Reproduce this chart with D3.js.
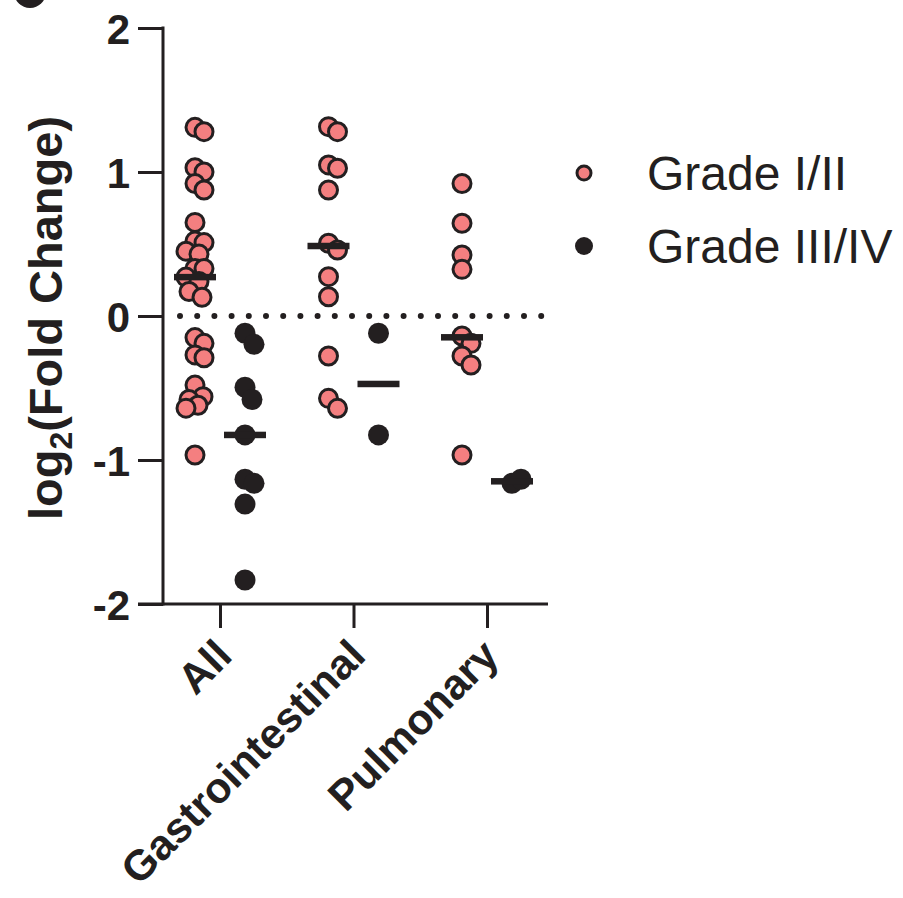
<!DOCTYPE html>
<html>
<head>
<meta charset="utf-8">
<script src="https://cdn.jsdelivr.net/npm/d3@7"></script>
<style>
  html, body { margin: 0; padding: 0; background: #fff; }
  svg { display: block; }
</style>
</head>
<body>
<svg id="chart" width="903" height="898"></svg>
<script>
// ---------------- data ----------------
const categories = ["All", "Gastrointestinal", "Pulmonary"];
const seriesNames = ["Grade I/II", "Grade III/IV"];

const gradeLowAll  = [1.31, 1.28, 1.03, 1.00, 0.92, 0.875, 0.65, 0.52, 0.51, 0.45, 0.43, 0.33, 0.33, 0.27, 0.24, 0.17, 0.13,
                      -0.15, -0.19, -0.27, -0.29, -0.48, -0.56, -0.58, -0.62, -0.64, -0.965];
const gradeLowGI   = [1.315, 1.28, 1.049, 1.026, 0.875, 0.505, 0.458, 0.273, 0.134, -0.278, -0.572, -0.641];
const gradeLowPulm = [0.92, 0.644, 0.424, 0.324, -0.139, -0.19, -0.278, -0.34, -0.965];

const gradeHighAll  = [-0.12, -0.197, -0.495, -0.58, -0.826, -1.134, -1.162, -1.306, -1.833];
const gradeHighGI   = [-0.12, -0.826];
const gradeHighPulm = [-1.162, -1.134];

const medianLow  = [0.27, 0.486, -0.148];
const medianHigh = [-0.826, -0.472, -1.148];

const yTicks = [-2, -1, 0, 1, 2];

// ---------------- drawing ----------------
const svg = d3.select("#chart");
const INK = "#231f20";
const PINK = "#f47f80";
const FONT = "'Liberation Sans', Arial, Helvetica, sans-serif";

const y = d3.scaleLinear().domain([-2, 2]).range([604, 28]);
const x = d3.scalePoint().domain(categories).range([220, 487]);
const seriesOffset = d3.scalePoint().domain(seriesNames).range([-25, 25]);

const axisLeftX = 163;
const axisRight = 548;

// top-left partial panel mark
svg.append("circle").attr("cx", 30).attr("cy", -8).attr("r", 16).attr("fill", INK);

// dotted zero line
svg.append("line")
  .attr("x1", 180).attr("x2", 546)
  .attr("y1", y(0)).attr("y2", y(0))
  .attr("stroke", INK).attr("stroke-width", 6)
  .attr("stroke-linecap", "round")
  .attr("stroke-dasharray", "0 17.2");

// Y axis
const yAxis = d3.axisLeft(y).tickValues(yTicks).tickSize(25).tickPadding(8)
  .tickFormat(d => String(d));
const gy = svg.append("g").attr("transform", `translate(${axisLeftX},0)`).call(yAxis);
gy.select(".domain").remove();
gy.selectAll(".tick line").attr("stroke", INK).attr("stroke-width", 3);
gy.selectAll(".tick text")
  .attr("font-family", FONT).attr("font-weight", "bold").attr("font-size", 42)
  .attr("fill", INK).attr("dy", "0.36em");
gy.append("line").attr("x1", 0).attr("x2", 0)
  .attr("y1", y(2) - 1.5).attr("y2", y(-2) + 1.5)
  .attr("stroke", INK).attr("stroke-width", 3);

// X axis
const xAxis = d3.axisBottom(x).tickSize(24).tickFormat("");
const gx = svg.append("g").attr("transform", `translate(0,${y(-2)})`).call(xAxis);
gx.select(".domain").remove();
gx.selectAll(".tick line").attr("stroke", INK).attr("stroke-width", 3);
gx.append("line").attr("x1", axisLeftX - 25).attr("x2", axisRight)
  .attr("y1", 0).attr("y2", 0).attr("stroke", INK).attr("stroke-width", 3);

svg.append("g").selectAll("text").data(categories).join("text")
  .attr("transform", d => `translate(${x(d) + 14},${y(-2) + 54}) rotate(-45)`)
  .attr("text-anchor", "end")
  .attr("font-family", FONT).attr("font-weight", "bold").attr("font-size", 42.5)
  .attr("fill", INK)
  .text(d => d);

// Y title
const title = svg.append("text")
  .attr("transform", `translate(62,318) rotate(-90)`)
  .attr("text-anchor", "middle")
  .attr("font-family", FONT).attr("font-weight", "bold").attr("font-size", 47)
  .attr("fill", INK);
title.append("tspan").text("log");
title.append("tspan").attr("font-size", 32).attr("dy", 10).text("2");
title.append("tspan").attr("dy", -10).text("(Fold Change)");

// beeswarm placement (deterministic, like Prism's scatter dot plot)
function swarm(values, cx) {
  const placed = [];
  const D = 14, maxOff = 9;
  const cands = [];
  for (let k = 0; k <= maxOff; k++) { cands.push(k); if (k) cands.push(-k); }
  values.forEach(v => {
    const py = y(v);
    let best = null, bestMin = -1;
    for (const dx of cands) {
      let m = Infinity;
      for (const p of placed) m = Math.min(m, Math.hypot(cx + dx - p.x, py - p.y));
      if (m >= D) { best = dx; bestMin = m; break; }
      if (m > bestMin) { bestMin = m; best = dx; }
    }
    placed.push({ x: cx + best, y: py, v });
  });
  return placed;
}

const lowGroups = [gradeLowAll, gradeLowGI, gradeLowPulm];
const highGroups = [gradeHighAll, gradeHighGI, gradeHighPulm];

// points
categories.forEach((c, i) => {
  const pl = swarm(lowGroups[i], x(c) + seriesOffset(seriesNames[0]));
  svg.append("g").selectAll("circle").data(pl).join("circle")
    .attr("cx", d => d.x).attr("cy", d => d.y).attr("r", 9)
    .attr("fill", PINK).attr("stroke", INK).attr("stroke-width", 3);
  const ph = swarm(highGroups[i], x(c) + seriesOffset(seriesNames[1]));
  svg.append("g").selectAll("circle").data(ph).join("circle")
    .attr("cx", d => d.x).attr("cy", d => d.y).attr("r", 10.5)
    .attr("fill", INK);
});

// median bars
const barW = 42, barH = 6.5;
svg.append("g").selectAll("rect").data(categories).join("rect")
  .attr("x", c => x(c) + seriesOffset(seriesNames[0]) - barW / 2)
  .attr("y", (c, i) => y(medianLow[i]) - barH / 2)
  .attr("width", barW).attr("height", barH).attr("fill", INK);
svg.append("g").selectAll("rect").data(categories).join("rect")
  .attr("x", c => x(c) + seriesOffset(seriesNames[1]) - barW / 2)
  .attr("y", (c, i) => y(medianHigh[i]) - barH / 2)
  .attr("width", barW).attr("height", barH).attr("fill", INK);

// legend
const legend = svg.append("g");
const legY = [173, 246];
seriesNames.forEach((s, i) => {
  if (i === 0) {
    legend.append("circle").attr("cx", 584).attr("cy", legY[i]).attr("r", 7)
      .attr("fill", PINK).attr("stroke", INK).attr("stroke-width", 3);
  } else {
    legend.append("circle").attr("cx", 584).attr("cy", legY[i]).attr("r", 9).attr("fill", INK);
  }
  legend.append("text").attr("x", 647).attr("y", legY[i]).attr("dy", "0.36em")
    .attr("font-family", FONT).attr("font-size", 48).attr("fill", INK)
    .text(s);
});
</script>
</body>
</html>
